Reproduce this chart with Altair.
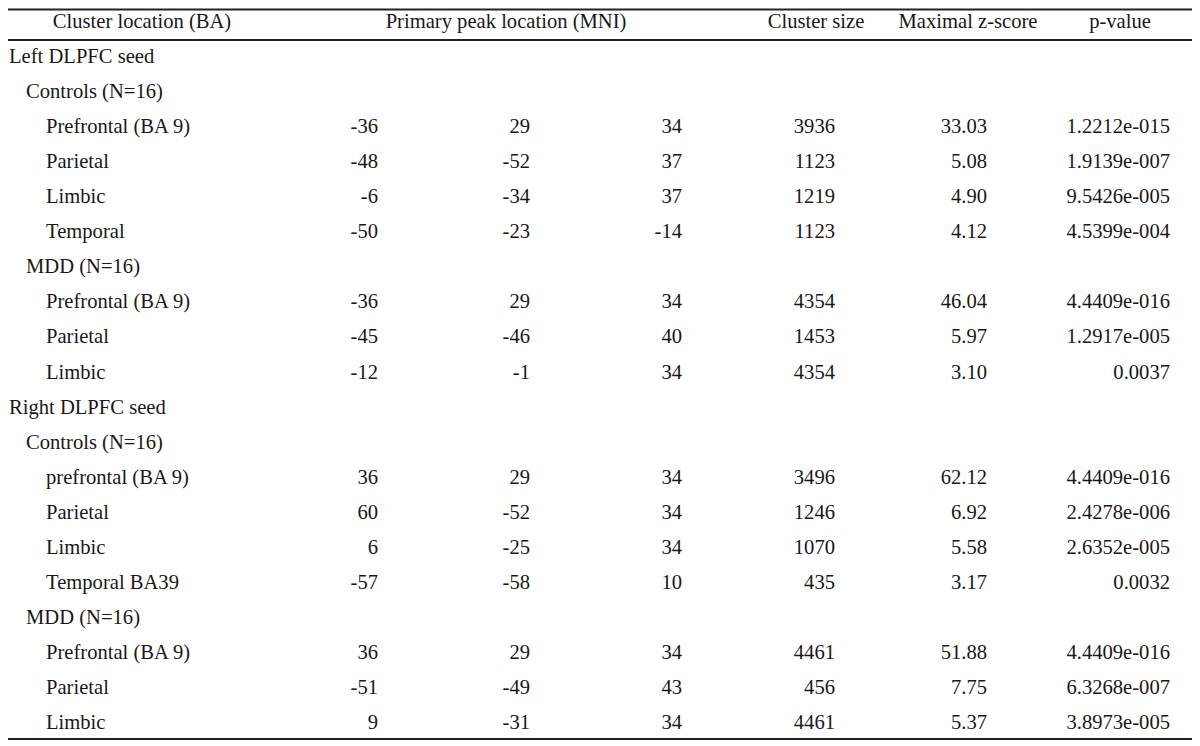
import altair as alt
import pandas as pd

# ---------------- data ----------------
headers = ["Cluster location (BA)", "Primary peak location (MNI)", "Cluster size",
           "Maximal z-score", "p-value"]

row_labels = ["Left DLPFC seed", "Controls (N=16)", "Prefrontal (BA 9)", "Parietal", "Limbic",
              "Temporal", "MDD (N=16)", "Prefrontal (BA 9)", "Parietal", "Limbic",
              "Right DLPFC seed", "Controls (N=16)", "prefrontal (BA 9)", "Parietal", "Limbic",
              "Temporal BA39", "MDD (N=16)", "Prefrontal (BA 9)", "Parietal", "Limbic"]
row_levels = [0, 1, 2, 2, 2, 2, 1, 2, 2, 2, 0, 1, 2, 2, 2, 2, 1, 2, 2, 2]

mni_x = ["", "", "-36", "-48", "-6", "-50", "", "-36", "-45", "-12",
         "", "", "36", "60", "6", "-57", "", "36", "-51", "9"]
mni_y = ["", "", "29", "-52", "-34", "-23", "", "29", "-46", "-1",
         "", "", "29", "-52", "-25", "-58", "", "29", "-49", "-31"]
mni_z = ["", "", "34", "37", "37", "-14", "", "34", "40", "34",
         "", "", "34", "34", "34", "10", "", "34", "43", "34"]
cluster_size = ["", "", "3936", "1123", "1219", "1123", "", "4354", "1453", "4354",
                "", "", "3496", "1246", "1070", "435", "", "4461", "456", "4461"]
z_score = ["", "", "33.03", "5.08", "4.90", "4.12", "", "46.04", "5.97", "3.10",
           "", "", "62.12", "6.92", "5.58", "3.17", "", "51.88", "7.75", "5.37"]
p_value = ["", "", "1.2212e-015", "1.9139e-007", "9.5426e-005", "4.5399e-004", "",
           "4.4409e-016", "1.2917e-005", "0.0037", "", "", "4.4409e-016", "2.4278e-006",
           "2.6352e-005", "0.0032", "", "4.4409e-016", "6.3268e-007", "3.8973e-005"]

# ---------------- layout (column slots -> pixel anchors) ----------------
# slot order: lvl0, lvl1, lvl2, hdr0, x, hdr1, y, z, hdr2, size, hdr3, zscore, hdr4, p
slot_px = [1, 18, 38, 134, 370, 498, 522, 674, 808, 827, 960, 979, 1112, 1162]
HDR_SLOTS = [3, 5, 8, 10, 12]
NUM_SLOTS = {"x": 4, "y": 6, "z": 7, "size": 9, "zs": 11, "p": 13}

W, H = 1184, 734
FONT = "'Liberation Serif', 'Times New Roman', Times, serif"
FS = 20.6
INK = "#1a1718"

hdr_df = pd.DataFrame({"slot": HDR_SLOTS, "row": [-1] * 5, "text": headers})
lab_df = pd.DataFrame({"slot": row_levels, "row": list(range(20)), "text": row_labels})
num_rows = []
for key, col in [("x", mni_x), ("y", mni_y), ("z", mni_z), ("size", cluster_size),
                 ("zs", z_score), ("p", p_value)]:
    for i, v in enumerate(col):
        if v != "":
            num_rows.append({"slot": NUM_SLOTS[key], "row": i, "text": v})
num_df = pd.DataFrame(num_rows)

xs = alt.X("slot:Q", scale=alt.Scale(domain=list(range(len(slot_px))), range=slot_px),
           axis=None)
ys = alt.Y("row:Q", scale=alt.Scale(domain=[-1, 19], range=[14, 715]), axis=None)


def text_layer(df, align):
    return alt.Chart(df).mark_text(font=FONT, fontSize=FS, color=INK, align=align,
                                   baseline="middle").encode(x=xs, y=ys, text="text:N")


def hline(ypix):
    return alt.Chart(pd.DataFrame({"a": [0]})).mark_rule(color="#222222", strokeWidth=2.2).encode(
        x=alt.value(0), x2=alt.value(W), y=alt.value(ypix))


chart = alt.layer(
    hline(1.5), hline(32), hline(731),
    text_layer(hdr_df, "center"),
    text_layer(lab_df, "left"),
    text_layer(num_df, "right"),
).properties(
    width=W, height=H, autosize=alt.AutoSizeParams(type="none"), padding=0
).configure_view(stroke=None)

chart.save("out.html", embed_options={"renderer": "svg", "actions": False})
